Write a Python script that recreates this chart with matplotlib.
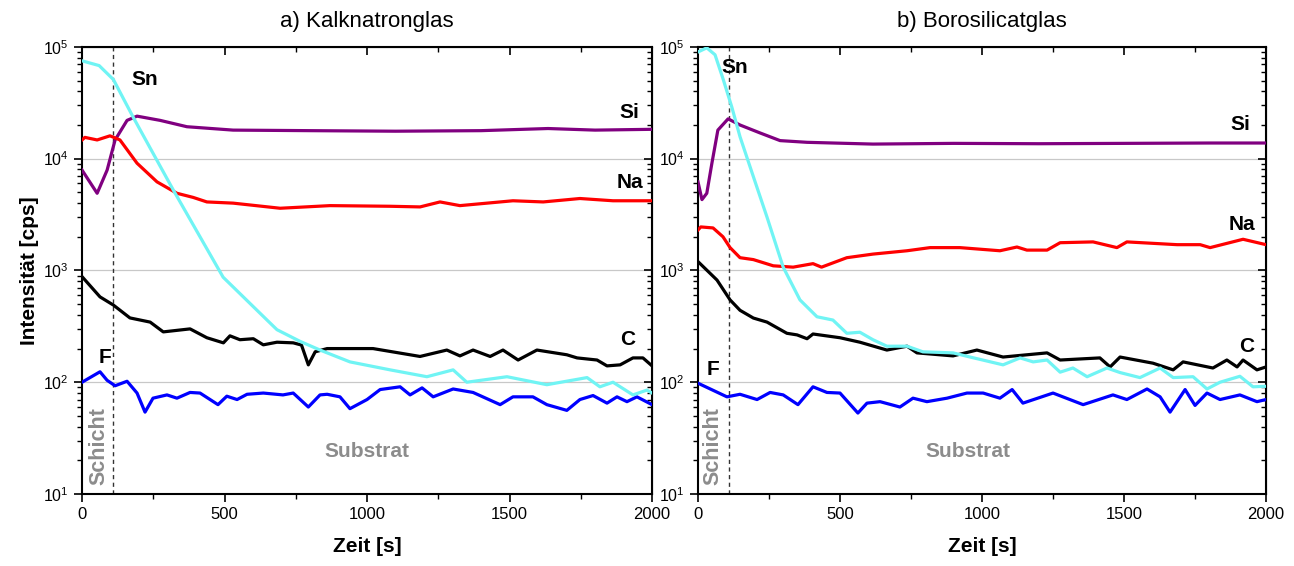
"""SIMS depth profiles: Kalknatronglas vs. Borosilicatglas (log intensity over time)."""

import matplotlib

matplotlib.use("Agg")
import matplotlib.pyplot as plt
from matplotlib.ticker import LogLocator, NullFormatter, MultipleLocator

plt.rcParams["font.family"] = ["Liberation Sans", "DejaVu Sans"]
plt.rcParams["mathtext.default"] = "regular"

# ---- a) Kalknatronglas ----
a_si_t = [0, 53, 88, 116, 158, 193, 274, 368, 530, 800, 1100, 1400, 1635, 1800, 2000]
a_si_v = [7.9e3, 4.9e3, 7.9e3, 1.47e4, 2.2e4, 2.4e4, 2.2e4, 1.93e4, 1.8e4, 1.78e4, 1.76e4, 1.78e4, 1.86e4, 1.8e4, 1.83e4]

a_na_t = [0, 10, 53, 98, 133, 193, 263, 333, 390, 438, 530, 695, 870, 1081, 1186, 1256, 1326,
          1512, 1618, 1747, 1863, 2000]
a_na_v = [1.47e4, 1.55e4, 1.47e4, 1.6e4, 1.47e4, 9.1e3, 6.2e3, 4.9e3, 4.5e3, 4.1e3, 4.0e3, 3.6e3,
          3.8e3, 3.75e3, 3.7e3, 4.1e3, 3.8e3, 4.2e3, 4.1e3, 4.4e3, 4.2e3, 4.2e3]

a_sn_t = [0, 60, 110, 179, 320, 495, 649, 684, 765, 835, 940, 1081, 1210, 1302, 1350, 1491, 1631,
          1772, 1817, 1863, 1933, 1982, 2000]
a_sn_v = [7.5e4, 6.8e4, 5.1e4, 2.36e4, 5.25e3, 870, 360, 295, 232, 194, 152, 129, 112, 129, 100,
          112, 95, 110, 91, 100, 77, 85, 80]

a_c_t = [0, 63, 110, 168, 239, 285, 379, 438, 496, 519, 554, 601, 636, 684, 741, 770, 794, 818,
         860, 1021, 1186, 1280, 1326, 1372, 1432, 1477, 1530, 1596, 1701, 1737, 1807, 1842, 1888,
         1933, 1968, 2000]
a_c_v = [880, 580, 490, 376, 345, 282, 300, 250, 225, 260, 240, 245, 216, 228, 225, 215, 143, 187,
         200, 200, 170, 194, 172, 194, 170, 194, 158, 194, 176, 165, 158, 140, 143, 165, 165, 140]

a_f_t = [0, 63, 88, 116, 158, 193, 221, 249, 298, 333, 379, 414, 477, 508, 544, 579, 636, 705,
         741, 794, 835, 860, 905, 940, 1000, 1046, 1116, 1151, 1193, 1232, 1302, 1372, 1467, 1512,
         1582, 1631, 1701, 1747, 1793, 1842, 1877, 1912, 1947, 2000]
a_f_v = [100, 124, 104, 93, 102, 80, 54, 72, 77, 72, 81, 80, 63, 75, 70, 78, 80, 77, 80, 60, 77,
         78, 74, 58, 70, 86, 91, 77, 89, 74, 87, 81, 63, 74, 74, 63, 56, 70, 76, 65, 74, 67, 74, 63]

# ---- b) Borosilicatglas ----
b_si_t = [0, 14, 31, 49, 70, 106, 148, 218, 289, 384, 616, 900, 1200, 1500, 1800, 2000]
b_si_v = [6.2e3, 4.3e3, 4.9e3, 9.1e3, 1.8e4, 2.27e4, 2.0e4, 1.7e4, 1.45e4, 1.4e4, 1.35e4, 1.37e4,
          1.36e4, 1.37e4, 1.38e4, 1.38e4]

b_na_t = [0, 10, 53, 88, 113, 148, 195, 265, 335, 405, 435, 524, 616, 736, 817, 922, 1063, 1123,
          1158, 1229, 1275, 1391, 1475, 1510, 1687, 1768, 1803, 1919, 2000]
b_na_v = [2.3e3, 2.45e3, 2.4e3, 2.0e3, 1.6e3, 1.3e3, 1.25e3, 1.1e3, 1.07e3, 1.15e3, 1.07e3, 1.3e3,
          1.4e3, 1.5e3, 1.6e3, 1.6e3, 1.5e3, 1.62e3, 1.52e3, 1.52e3, 1.77e3, 1.8e3, 1.6e3, 1.8e3,
          1.7e3, 1.7e3, 1.6e3, 1.9e3, 1.7e3]

b_sn_t = [0, 31, 60, 89, 119, 148, 195, 243, 300, 359, 419, 475, 524, 570, 616, 665, 736, 792,
          898, 958, 1074, 1134, 1180, 1229, 1275, 1320, 1370, 1440, 1486, 1556, 1627, 1673, 1743,
          1792, 1838, 1908, 1954, 2000]
b_sn_v = [9.0e4, 9.8e4, 8.5e4, 5.1e4, 2.9e4, 1.57e4, 6.9e3, 3.0e3, 1.07e3, 545, 385, 360, 274, 280,
          240, 210, 210, 187, 183, 168, 143, 165, 152, 158, 123, 134, 112, 134, 122, 110, 134, 110,
          112, 87, 100, 113, 91, 92]

b_c_t = [0, 67, 113, 148, 195, 243, 313, 349, 384, 405, 500, 570, 665, 736, 771, 898, 982, 1074,
         1229, 1275, 1415, 1451, 1486, 1602, 1673, 1708, 1813, 1862, 1898, 1919, 1968, 2000]
b_c_v = [1.2e3, 820, 545, 440, 375, 345, 274, 265, 245, 270, 250, 228, 194, 210, 183, 172, 194,
         168, 183, 158, 165, 137, 168, 148, 129, 152, 134, 158, 137, 158, 129, 137]

b_f_t = [0, 31, 102, 148, 208, 254, 300, 352, 405, 454, 500, 563, 595, 641, 711, 757, 806, 877,
         947, 1004, 1063, 1106, 1144, 1250, 1356, 1461, 1510, 1581, 1627, 1662, 1715, 1750, 1792,
         1838, 1908, 1968, 2000]
b_f_v = [98, 90, 74, 78, 70, 81, 77, 63, 91, 81, 80, 53, 65, 67, 60, 72, 67, 72, 80, 80, 72, 86,
         65, 80, 63, 77, 70, 87, 74, 54, 86, 62, 80, 70, 77, 67, 70]

COLORS = {"Si": "#800080", "Na": "#ff0000", "Sn": "#70f4f4", "C": "#000000", "F": "#0000ff"}
LAYER_END = 110  # s, boundary between Schicht and Substrat


def style_axes(ax):
    ax.set_yscale("log")
    ax.set_xlim(0, 2000)
    ax.set_ylim(10, 1e5)
    ax.xaxis.set_major_locator(MultipleLocator(500))
    ax.xaxis.set_minor_locator(MultipleLocator(250))
    ax.yaxis.set_major_locator(LogLocator(base=10, numticks=10))
    ax.yaxis.set_minor_locator(LogLocator(base=10, subs=range(2, 10), numticks=20))
    ax.yaxis.set_minor_formatter(NullFormatter())
    ax.tick_params(which="major", direction="out", length=6, width=1.2)
    ax.tick_params(axis="x", which="major", labelsize=12)
    ax.tick_params(axis="y", which="major", labelsize=11.5)
    ax.tick_params(which="minor", direction="out", length=3.5, width=1.0)
    for sp in ax.spines.values():
        sp.set_linewidth(1.5)
    for v in (1e2, 1e3, 1e4):
        ax.axhline(v, color="#c8c8c8", lw=0.9, zorder=0)

    top = ax.secondary_xaxis("top")
    top.xaxis.set_major_locator(MultipleLocator(500))
    top.xaxis.set_minor_locator(MultipleLocator(250))
    top.tick_params(which="major", direction="in", length=6, width=1.2, labeltop=False)
    top.tick_params(which="minor", direction="in", length=3.5, width=1.0)
    right = ax.secondary_yaxis("right")
    right.yaxis.set_major_locator(LogLocator(base=10, numticks=10))
    right.yaxis.set_minor_locator(LogLocator(base=10, subs=range(2, 10), numticks=20))
    right.yaxis.set_minor_formatter(NullFormatter())
    right.tick_params(which="major", direction="in", length=6, width=1.2, labelright=False)
    right.tick_params(which="minor", direction="in", length=3.5, width=1.0)


fig = plt.figure(figsize=(12.94, 5.66), dpi=100)
ax_a = fig.add_axes([0.0634, 0.1272, 0.4405, 0.79])
ax_b = fig.add_axes([0.5394, 0.1272, 0.4390, 0.79])

panels = [
    (ax_a, "a) Kalknatronglas",
     [("Si", a_si_t, a_si_v), ("Na", a_na_t, a_na_v), ("C", a_c_t, a_c_v),
      ("F", a_f_t, a_f_v), ("Sn", a_sn_t, a_sn_v)],
     {"Sn": (220, 5.1e4), "Si": (1919, 2.6e4), "Na": (1923, 6.1e3), "C": (1916, 240), "F": (81, 168)},
     (60, 27), (1000, 24)),
    (ax_b, "b) Borosilicatglas",
     [("Si", b_si_t, b_si_v), ("Na", b_na_t, b_na_v), ("C", b_c_t, b_c_v),
      ("F", b_f_t, b_f_v), ("Sn", b_sn_t, b_sn_v)],
     {"Sn": (130, 6.5e4), "Si": (1908, 2.0e4), "Na": (1915, 2.6e3), "C": (1933, 210), "F": (53, 129)},
     (53, 27), (950, 24)),
]

for ax, title, series, labels, schicht_pos, substrat_pos in panels:
    style_axes(ax)
    for name, t, v in series:
        ax.plot(t, v, color=COLORS[name], lw=2.3, zorder=3)
    ax.axvline(LAYER_END, color="#333333", lw=1.0, ls=(0, (3, 2.5)), zorder=2)
    for name, (x, y) in labels.items():
        ax.text(x, y, name, fontsize=15, fontweight="bold", ha="center", va="center", zorder=4)
    ax.text(*schicht_pos, "Schicht", rotation=90, fontsize=15.5, fontweight="bold",
            color="#8c8c8c", ha="center", va="center")
    ax.text(*substrat_pos, "Substrat", fontsize=15, fontweight="bold",
            color="#8c8c8c", ha="center", va="center")
    ax.set_title(title, fontsize=16, pad=14)
    ax.set_xlabel("Zeit [s]", fontsize=15, fontweight="bold", labelpad=11)

ax_a.set_ylabel("Intensität [cps]", fontsize=15, fontweight="bold", labelpad=3)

fig.savefig("out.png", dpi=100, facecolor="white")
plt.close(fig)
